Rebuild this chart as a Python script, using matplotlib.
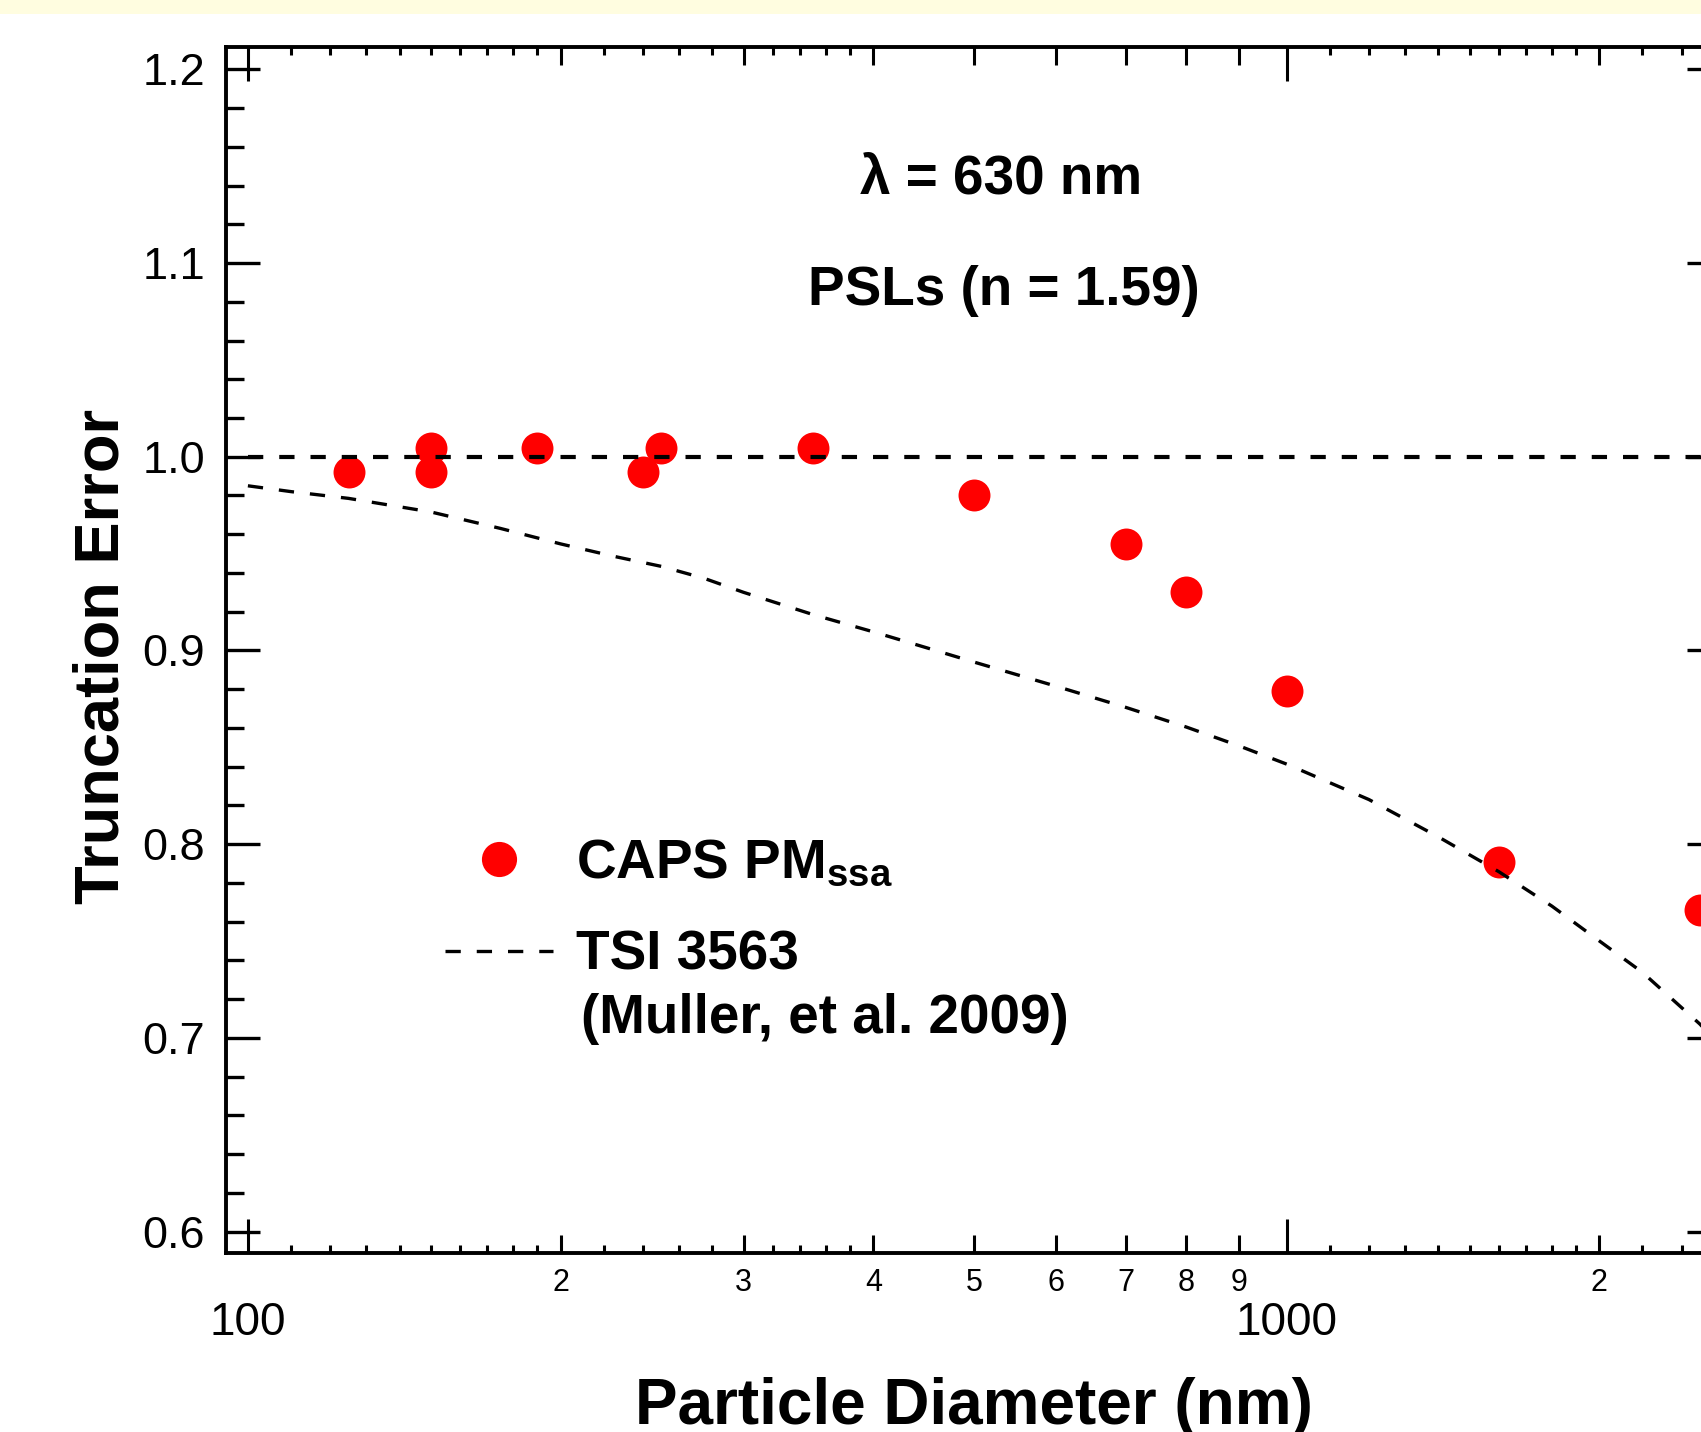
import matplotlib
matplotlib.use('Agg')
import matplotlib.pyplot as plt
from matplotlib.ticker import FixedLocator, FixedFormatter, MultipleLocator, NullLocator, FormatStrFormatter
from matplotlib.patches import Rectangle

plt.rcParams['font.family'] = ['Liberation Sans', 'DejaVu Sans']
plt.rcParams['mathtext.fontset'] = 'custom'
plt.rcParams['mathtext.rm'] = 'Liberation Sans:bold'
plt.rcParams['mathtext.it'] = 'Liberation Sans:bold'
plt.rcParams['mathtext.bf'] = 'Liberation Sans:bold'
plt.rcParams['lines.scale_dashes'] = False

# CAPS PMssa measurements
caps_diam = [125, 150, 150, 190, 240, 250, 350, 500, 700, 800, 1000, 1600, 2500]
caps_trunc = [0.992, 1.0045, 0.992, 1.0045, 0.992, 1.0045, 1.0045, 0.980, 0.955, 0.930, 0.879, 0.791, 0.766]

# TSI 3563 nephelometer (Muller et al. 2009)
tsi_diam = [100, 110, 125, 150, 175, 200, 225, 250, 275, 300, 350, 400, 450, 500, 600, 700,
            800, 900, 1000, 1200, 1400, 1600, 1800, 2000, 2200, 2500, 2600]
tsi_trunc = [0.985, 0.982, 0.9785, 0.9715, 0.963, 0.955, 0.9486, 0.9434, 0.9372, 0.930, 0.9185,
             0.9096, 0.9014, 0.894, 0.8815, 0.8706, 0.8605, 0.8507, 0.8413, 0.823, 0.8037,
             0.7858, 0.768, 0.750, 0.7338, 0.707, 0.697]

# no truncation reference
ref_diam = [100, 2619]
ref_val = [1.0, 1.0]

# ticks
y_ticks = [0.6, 0.7, 0.8, 0.9, 1.0, 1.1, 1.2]
x_major = [100, 1000]
x_major_labels = ['100', '1000']
x_mid = [200, 300, 400, 500, 600, 700, 800, 900, 2000]
x_mid_labels = ['2', '3', '4', '5', '6', '7', '8', '9', '2']
x_small = [110, 120, 130, 140, 150, 160, 170, 180, 190, 220, 240, 260, 280, 320, 340, 360, 380,
           1100, 1200, 1300, 1400, 1500, 1600, 1700, 1800, 1900, 2200, 2400]

W, H = 1701, 1432
fig = plt.figure(figsize=(W / 100, H / 100), dpi=100)
fig.patches.append(Rectangle((0, 1 - 14 / H), 1, 14 / H, transform=fig.transFigure,
                             facecolor='#fffde0', edgecolor='none'))

ax = fig.add_axes([225.8 / W, 1 - 1253 / H, (1721 - 225.8) / W, (1253 - 46.7) / H])
ax.set_xscale('log')
ax.set_xlim(95.22, 2618.7)
ax.set_ylim(0.5889, 1.2117)

# smallest x ticks on a twin axis (third tick level)
ax2 = ax.twiny()
ax2.set_xscale('log')
ax2.set_xlim(ax.get_xlim())
ax2.xaxis.set_major_locator(FixedLocator(x_small))
ax2.xaxis.set_minor_locator(NullLocator())
ax2.tick_params(axis='x', which='major', direction='in', top=True, bottom=True,
                labeltop=False, labelbottom=False, length=5.8, width=2.2)
for s in ax2.spines.values():
    s.set_visible(False)

h_caps, = ax.plot(caps_diam, caps_trunc, 'o', color='#ff0000', ms=23, mew=0, zorder=2)
h_tsi, = ax.plot(tsi_diam, tsi_trunc, color='black', lw=2.4, dashes=(11, 11.5), zorder=3)
ax.plot(ref_diam, ref_val, color='black', lw=3.0, dashes=(11, 11.5), zorder=3)

ax.xaxis.set_major_locator(FixedLocator(x_major))
ax.xaxis.set_major_formatter(FixedFormatter(x_major_labels))
ax.xaxis.set_minor_locator(FixedLocator(x_mid))
ax.xaxis.set_minor_formatter(FixedFormatter(x_mid_labels))
ax.yaxis.set_major_locator(FixedLocator(y_ticks))
ax.yaxis.set_major_formatter(FormatStrFormatter('%.1f'))
ax.yaxis.set_minor_locator(MultipleLocator(0.02))

ax.tick_params(axis='both', which='both', direction='in', top=True, right=True, colors='black')
ax.tick_params(axis='x', which='major', length=24.5, width=2.2, labelsize=33, pad=34.5)
ax.tick_params(axis='x', which='minor', length=13, width=2.2, labelsize=22, pad=10.8)
ax.tick_params(axis='y', which='major', length=24.5, width=2.4, labelsize=32.5, pad=15)
ax.tick_params(axis='y', which='minor', length=13, width=2.4)
for s in ax.spines.values():
    s.set_linewidth(2.8)

ax.set_ylabel('Truncation Error', fontsize=45.5, fontweight='bold', va='baseline')
ax.yaxis.set_label_coords((118.3 - 225.8) / (1721 - 225.8), (1253 - 656.3) / (1253 - 46.7))
ax.set_xlabel('Particle Diameter (nm)', fontsize=46, fontweight='bold', va='baseline')
ax.xaxis.set_label_coords((974.4 - 225.8) / (1721 - 225.8), (1253 - 1424) / (1253 - 46.7))

fig.text(1001 / W, 1 - 193 / H, 'λ = 630 nm', ha='center', va='baseline',
         fontsize=39.5, fontweight='bold')
fig.text(1003.5 / W, 1 - 305 / H, 'PSLs (n = 1.59)', ha='center', va='baseline',
         fontsize=39.5, fontweight='bold')

ax.legend([h_caps, h_tsi], [r'CAPS PM$_{\mathrm{ssa}}$', 'TSI 3563'], loc='upper left',
          bbox_to_anchor=(445 / W, 1 - 838.5 / H), bbox_transform=fig.transFigure,
          frameon=False, borderpad=0, borderaxespad=0, handlelength=1.97,
          handletextpad=0.42, labelspacing=0.72, markerscale=1.1,
          prop=dict(weight='bold', size=39.5))
fig.text(581 / W, 1 - 1033 / H, '(Muller, et al. 2009)', ha='left', va='baseline',
         fontsize=39.5, fontweight='bold')

fig.savefig('out.png', dpi=100)
